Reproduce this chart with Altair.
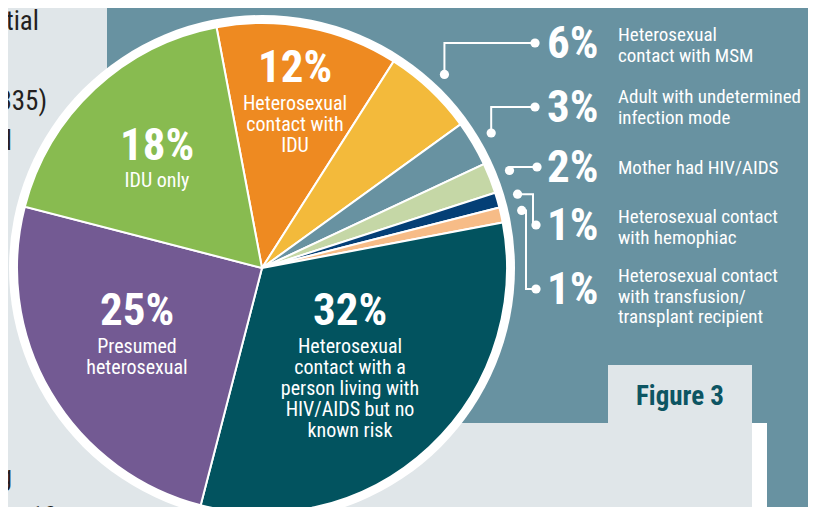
import math
import altair as alt
import pandas as pd

# ---------------- data ----------------
categories = [
    "Heterosexual contact with IDU",
    "Heterosexual contact with MSM",
    "Adult with undetermined infection mode",
    "Mother had HIV/AIDS",
    "Heterosexual contact with hemophiac",
    "Heterosexual contact with transfusion/transplant recipient",
    "Heterosexual contact with a person living with HIV/AIDS but no known risk",
    "Presumed heterosexual",
    "IDU only",
]
percents = [12, 6, 3, 2, 1, 1, 32, 25, 18]
pct_labels = ["12%", "6%", "3%", "2%", "1%", "1%", "32%", "25%", "18%"]
desc_labels = [
    "Heterosexual\ncontact with\nIDU",
    "Heterosexual\ncontact with MSM",
    "Adult with undetermined\ninfection mode",
    "Mother had HIV/AIDS",
    "Heterosexual contact\nwith hemophiac",
    "Heterosexual contact\nwith transfusion/\ntransplant recipient",
    "Heterosexual\ncontact with a\nperson living with\nHIV/AIDS but no\nknown risk",
    "Presumed\nheterosexual",
    "IDU only",
]
left_fragments = ["ntial", "335)", "d", "g", "ct 10"]
figure_title = "Figure 3"

# ---------------- styles / layout ----------------
colors = ["#ee8a21", "#f3ba3b", "#6892a1", "#c5d7a6", "#043f76",
          "#f7bc87", "#02535f", "#735a93", "#88bb50"]
STEEL = "#6892a1"
LIGHT = "#e0e6e9"
FONT = "Liberation Sans Narrow, Roboto Condensed, DejaVu Sans Condensed, Arial Narrow, sans-serif"

CX, CY = 262, 268          # pie centre (page px)
R_PIE, R_RING = 245, 253
START = 2 * math.pi - math.radians(10.7)
OFF = 8                     # page margin
W, H = 800, 499

inside = [0, 6, 7, 8]       # labels drawn inside slices
inside_pos = {0: (295, 82, 110), 6: (350, 325, 353), 7: (137, 325, 353), 8: (157, 160, 187)}
outside = [1, 2, 3, 4, 5]
outside_pos = {1: (58, 41), 2: (122, 103), 3: (182, 174), 4: (240, 223), 5: (304, 282)}
PCT_X, DESC_X = 547, 618
leader_style = {1: ("up", None, 535), 2: ("up", None, 535), 3: ("up", None, 537),
                4: ("rd", 533, 536), 5: ("rd", 526, 536)}
left_pos = [(39, 30), (47, 110), (12, 150), (12, 485), (57, 526)]

panels = pd.DataFrame([
    dict(x0=107, x1=816, y0=0, y1=423, c=STEEL),
    dict(x0=767, x1=816, y0=423, y1=515, c=STEEL),
    dict(x0=752, x1=767, y0=423, y1=515, c="#ffffff"),
    dict(x0=608, x1=752, y0=365, y1=424, c=LIGHT),
])

X = dict(scale=alt.Scale(domain=[OFF, OFF + W], nice=False, zero=False), axis=None)
Y = dict(scale=alt.Scale(domain=[OFF, OFF + H], nice=False, zero=False, reverse=True), axis=None)

bg = alt.Chart(panels).mark_rect().encode(
    x=alt.X("x0:Q", **X), x2="x1:Q",
    y=alt.Y("y0:Q", **Y), y2="y1:Q",
    color=alt.Color("c:N", scale=None),
)

ring = alt.Chart(pd.DataFrame({"a": [0]})).mark_arc(
    outerRadius=R_RING, theta=0, theta2=2 * math.pi, color="#ffffff"
).encode(x=alt.value(CX - OFF), y=alt.value(CY - OFF))

pie_df = pd.DataFrame({"cat": categories, "pct": percents, "idx": list(range(len(categories)))})
pie = alt.Chart(pie_df).mark_arc(outerRadius=R_PIE, stroke="#ffffff", strokeWidth=2).encode(
    theta=alt.Theta("pct:Q", stack=True,
                    scale=alt.Scale(domain=[0, sum(percents)], range=[START, START + 2 * math.pi])),
    color=alt.Color("cat:N", scale=alt.Scale(domain=categories, range=colors), legend=None),
    order=alt.Order("idx:Q", sort="ascending"),
    x=alt.value(CX - OFF), y=alt.value(CY - OFF),
)

# leader lines computed from slice mid-angles
total = sum(percents)
cum = 0
mids = []
for p in percents:
    mids.append(START + (cum + p / 2) / total * 2 * math.pi)
    cum += p
rows, dots = [], []
R_DOT = 266
for i in outside:
    a = mids[i]
    rx, ry = CX + R_DOT * math.sin(a), CY - R_DOT * math.cos(a)
    ly = outside_pos[i][0] - 15
    kind, xc, xe = leader_style[i]
    if kind == "up":
        pts = [(rx, ry), (rx, ly), (xe, ly)]
    else:
        pts = [(rx, ry), (xc, ry), (xc, ly), (xe, ly)]
    for k, (px, py) in enumerate(pts):
        rows.append(dict(id=i, k=k, px=px, py=py))
    dots.append(dict(px=rx, py=ry))
    dots.append(dict(px=xe, py=ly))
lead_df = pd.DataFrame(rows)
dot_df = pd.DataFrame(dots)

leaders = alt.Chart(lead_df).mark_line(color="#ffffff", strokeWidth=2).encode(
    x=alt.X("px:Q", **X), y=alt.Y("py:Q", **Y), detail="id:N", order="k:Q")
leader_dots = alt.Chart(dot_df).mark_circle(color="#ffffff", opacity=1, size=85).encode(
    x=alt.X("px:Q", **X), y=alt.Y("py:Q", **Y))

# texts
in_pct = pd.DataFrame([dict(t=pct_labels[i], px=inside_pos[i][0], py=inside_pos[i][1]) for i in inside])
in_desc = pd.DataFrame([dict(t=desc_labels[i], px=inside_pos[i][0], py=inside_pos[i][2]) for i in inside])
out_pct = pd.DataFrame([dict(t=pct_labels[i], px=PCT_X, py=outside_pos[i][0]) for i in outside])
out_desc = pd.DataFrame([dict(t=desc_labels[i], px=DESC_X, py=outside_pos[i][1]) for i in outside])
left_df = pd.DataFrame([dict(t=t, px=p[0], py=p[1]) for t, p in zip(left_fragments, left_pos)])
fig_df = pd.DataFrame([dict(t=figure_title, px=680, py=405)])


def txt(df, size, weight, align, color, lh=21):
    return alt.Chart(df).mark_text(
        font=FONT, fontSize=size, fontWeight=weight, align=align, baseline="alphabetic",
        color=color, lineBreak="\n", lineHeight=lh,
    ).encode(x=alt.X("px:Q", **X), y=alt.Y("py:Q", **Y), text="t:N")


layers = [
    bg, ring, pie, leaders, leader_dots,
    txt(in_pct, 45, "bold", "center", "#ffffff"),
    txt(in_desc, 20, "normal", "center", "#ffffff"),
    txt(out_pct, 45, "bold", "left", "#ffffff"),
    txt(out_desc, 19, "normal", "left", "#ffffff", 20.7),
    txt(left_df, 27, "normal", "right", "#231f20"),
    txt(fig_df, 27, "bold", "center", "#0d5563"),
]

chart = alt.layer(*layers).properties(
    width=W, height=H, padding=0, background=LIGHT,
    autosize=alt.AutoSizeParams(type="none"),
).configure_view(stroke=None)

chart.save("out.html", embed_options={"renderer": "svg", "actions": False})
